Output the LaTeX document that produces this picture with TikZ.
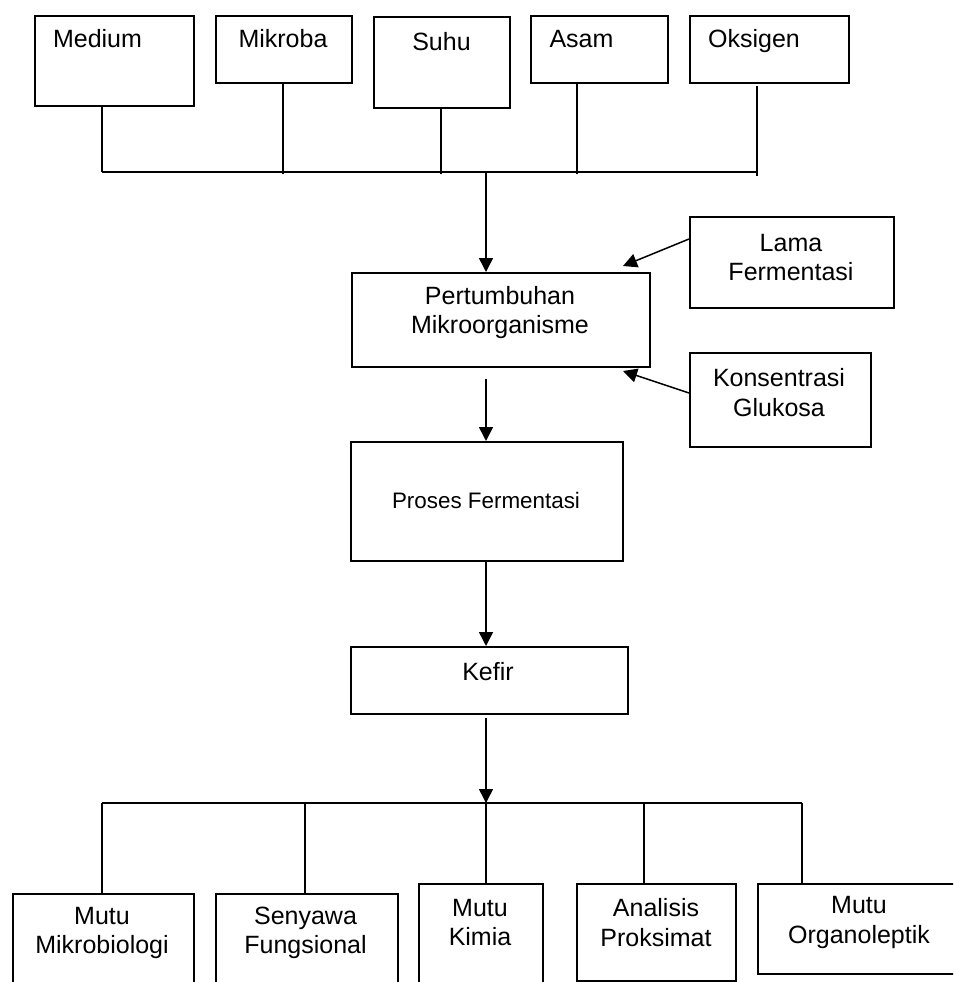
\documentclass[tikz,border=0pt]{standalone}
\usepackage{fontspec}
\setmainfont{Liberation Sans}
\usetikzlibrary{arrows.meta}
\tikzset{
  box/.style={draw, line width=1.8pt, inner sep=0pt, anchor=north west},
  lbl/.style={inner sep=0pt, align=center, font=\fontsize{25}{29.5}\selectfont},
  small/.style={inner sep=0pt, align=center, font=\fontsize{22.4}{26}\selectfont},
  wire/.style={line width=1.5pt},
  arr/.style={line width=1.5pt, -{Triangle[length=14pt,width=14pt]}},
}
\newcommand{\boxat}[5]{% name, x1, y1, x2, y2
  \node[box, minimum width={#4-#2}, minimum height={#5-#3}] (#1) at (#2,#3) {};}
\begin{document}
\begin{tikzpicture}[x=1pt, y=-1pt]
\useasboundingbox (0,0) rectangle (953,982);
\clip (0,0) rectangle (953,982);
\fill[white] (0,0) rectangle (953,982);

% factor boxes along the top
\boxat{medium}{34}{15}{193}{105}
\boxat{mikroba}{215}{15}{351}{82}
\boxat{suhu}{373}{16}{509}{107}
\boxat{asam}{530}{15}{667}{82}
\boxat{oksigen}{689}{15}{848}{82}
\node[lbl, anchor=base] (tmedium) at (97.5,48) {Medium};
\node[lbl, anchor=base] (tmikroba) at (283,48) {Mikroba};
\node[lbl, anchor=base] (tsuhu) at (441.5,51) {Suhu};
\node[lbl, anchor=base] (tasam) at (581.5,48) {Asam};
\node[lbl, anchor=base] (toksigen) at (754,48) {Oksigen};

% collecting bus under the factors
\coordinate (b1) at (102,172);
\coordinate (b2) at (283,174);
\coordinate (b3) at (441,174);
\coordinate (b4) at (577,174);
\coordinate (b5) at (757,176);
\coordinate (b5top) at (757,86);
\coordinate (bus) at (486,172);
\draw[wire] (b1 |- medium.south) -- (b1);
\draw[wire] (b2 |- mikroba.south) -- (b2);
\draw[wire] (b3 |- suhu.south) -- (b3);
\draw[wire] (b4 |- asam.south) -- (b4);
\draw[wire] (b5top) -- (b5);
\draw[wire] (b1) -- (b5 |- b1);

% growth stage and its two side factors
\boxat{tumbuh}{351}{272}{649}{366}
\node[lbl] (ttumbuh) at (500,312.5) {Pertumbuhan\\Mikroorganisme};
\boxat{lama}{689}{216}{893}{307}
\node[lbl] (tlama) at (791,257.5) {Lama\\Fermentasi};
\boxat{konsen}{689}{352}{870}{446}
\node[lbl] (tkonsen) at (779,392.5) {Konsentrasi\\Glukosa};

\coordinate (lamaout) at (689,239);
\coordinate (lamain) at (623,266);
\coordinate (konout) at (689,393);
\coordinate (konin) at (623,371);
\draw[arr] (bus) -- (bus |- tumbuh.north);
\draw[arr] (lamaout) -- (lamain);
\draw[arr] (konout) -- (konin);

% fermentation and product
\boxat{proses}{350}{441}{622}{560}
\node[small] (tproses) at (486,500) {Proses Fermentasi};
\boxat{kefir}{350}{646}{627}{713}
\node[lbl] (tkefir) at (488,672) {Kefir};

\coordinate (tumbuhout) at (486,379);
\draw[arr] (tumbuhout) -- (tumbuhout |- proses.north);
\draw[arr] (tumbuhout |- proses.south) -- (tumbuhout |- kefir.north);

% quality analyses along the bottom
\boxat{mikro}{12}{893}{193}{995}
\boxat{senyawa}{215}{893}{397}{995}
\boxat{kimia}{418}{883}{542}{995}
\boxat{proksimat}{576}{883}{735}{980}
\boxat{organo}{757}{883}{965}{973}
\node[lbl] (tmikro) at (102,933) {Mutu\\Mikrobiologi};
\node[lbl] (tsenyawa) at (305.5,933) {Senyawa\\Fungsional};
\node[lbl] (tkimia) at (480,922.5) {Mutu\\Kimia};
\node[lbl] (tproksimat) at (656,922.5) {Analisis\\Proksimat};
\node[lbl] (torgano) at (859,922.5) {Mutu\\Organoleptik};

\coordinate (kefirout) at (486,718);
\coordinate (split) at (486,803);
\coordinate (d1) at (102,803);
\coordinate (d2) at (305,803);
\coordinate (d4) at (644,803);
\coordinate (d5) at (802,803);
\draw[arr] (kefirout) -- (split);
\draw[wire] (split) -- (split |- kimia.north);
\draw[wire] (d1) -- (d5);
\draw[wire] (d1) -- (d1 |- mikro.north);
\draw[wire] (d2) -- (d2 |- senyawa.north);
\draw[wire] (d4) -- (d4 |- proksimat.north);
\draw[wire] (d5) -- (d5 |- organo.north);
\end{tikzpicture}
\end{document}
